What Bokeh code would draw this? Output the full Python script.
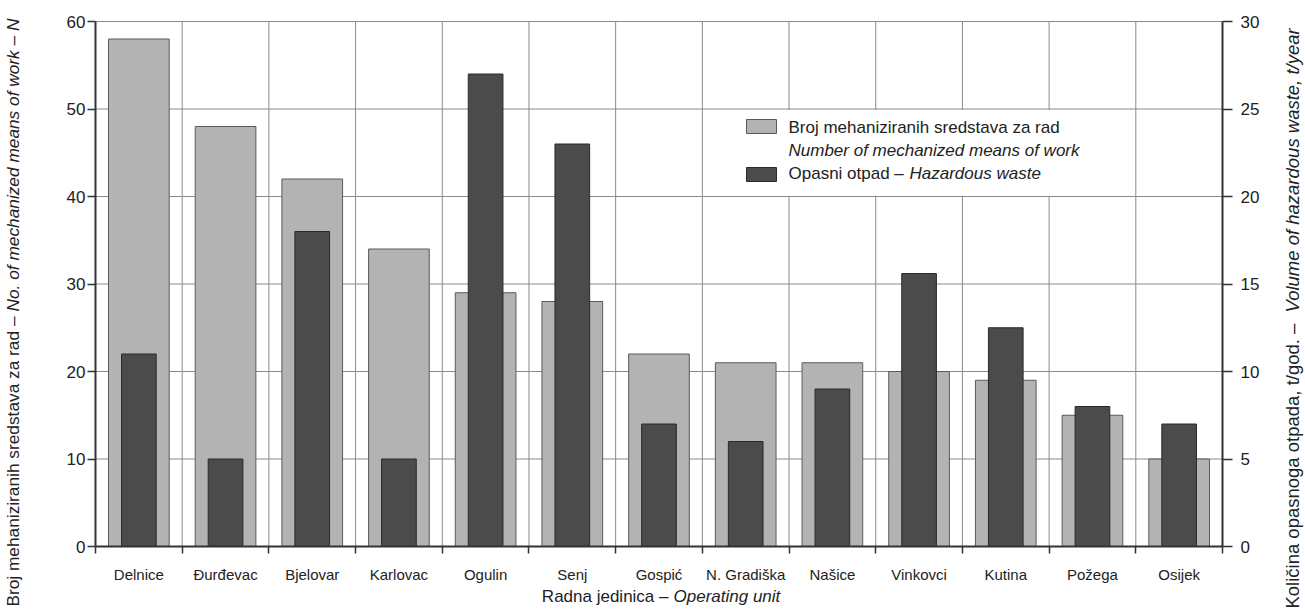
from bokeh.plotting import figure
from bokeh.models import Range1d, LinearAxis, FixedTicker, Label
from bokeh.core.properties import value
from bokeh.embed import file_html
from bokeh.resources import INLINE
import numpy as np

categories = ["Delnice", "Đurđevac", "Bjelovar", "Karlovac", "Ogulin", "Senj", "Gospić",
              "N. Gradiška", "Našice", "Vinkovci", "Kutina", "Požega", "Osijek"]
mechanized = [58, 48, 42, 34, 29, 28, 22, 21, 21, 20, 19, 15, 10]
hazardous = [11, 5, 18, 5, 27, 23, 7, 6, 9, 15.6, 12.5, 8, 7]
left_ticks = [0, 10, 20, 30, 40, 50, 60]
right_ticks = [0, 5, 10, 15, 20, 25, 30]

FONT = "Liberation Sans"
TXT = "#222222"
GRID = "#8a8a8a"
AX = "#333333"
LIGHT, LIGHT_LINE = "#b3b3b3", "#5a5a5a"
DARK, DARK_LINE = "#4b4b4b", "#2a2a2a"

n = len(categories)
xpos = np.arange(n) + 0.5
LMAX, RMAX = left_ticks[-1], right_ticks[-1]

# layout: the frame fills the canvas; axes are placed at fixed locations
W, H = 1304, 614
X0PX, X1PX, Y0PX, Y1PX = 95, 1222, 546, 21
sx = (X1PX - X0PX) / n
sy = (Y0PX - Y1PX) / LMAX
x_rng = Range1d(-X0PX / sx, n + (W - X1PX) / sx)
y_lo, y_hi = -(H - Y0PX) / sy, LMAX + Y1PX / sy

p = figure(width=W, height=H, output_backend="svg", toolbar_location=None,
           x_range=x_rng, y_range=Range1d(y_lo, y_hi),
           x_axis_location=None, y_axis_location=None,
           min_border=0, min_border_left=0, min_border_right=0, min_border_top=0, min_border_bottom=0)
p.outline_line_color = None
p.xgrid.visible = False
p.ygrid.visible = False
p.extra_y_ranges = {"right": Range1d(y_lo * RMAX / LMAX, y_hi * RMAX / LMAX)}

def dx(px):
    return (px - X0PX) / sx

def dy(py):
    return (Y0PX - py) / sy

# grid lines (behind bars)
bounds = list(range(n + 1))
p.segment(x0=bounds[1:-1], y0=0, x1=bounds[1:-1], y1=LMAX, line_color=GRID, line_width=1)
p.segment(x0=0, y0=left_ticks[1:], x1=n, y1=left_ticks[1:], line_color=GRID, line_width=1)

# bars
p.vbar(x=xpos, top=mechanized, width=0.7, fill_color=LIGHT, line_color=LIGHT_LINE, line_width=1)
p.vbar(x=xpos, top=hazardous, width=0.4, fill_color=DARK, line_color=DARK_LINE, line_width=1,
       y_range_name="right")

# x axis: labels centred, ticks at boundaries
xa = LinearAxis(fixed_location=0, bounds=(0, n))
xa.ticker = FixedTicker(ticks=list(xpos), minor_ticks=bounds)
xa.major_label_overrides = {float(x): c for x, c in zip(xpos, categories)}
xa.major_tick_line_color = None
xa.minor_tick_line_color = AX
xa.minor_tick_line_width = 1.5
xa.minor_tick_out = 7
xa.minor_tick_in = 0
xa.axis_line_color = AX
xa.axis_line_width = 2
xa.major_label_standoff = 12
xa.major_label_text_font = FONT
xa.major_label_text_font_size = "15px"
xa.major_label_text_color = TXT
p.add_layout(xa, "below")

ya = LinearAxis(fixed_location=0, bounds=(0, LMAX), ticker=FixedTicker(ticks=left_ticks))
ya.axis_line_color = AX
ya.axis_line_width = 2
ya.major_tick_line_color = AX
ya.major_tick_line_width = 1.5
ya.major_tick_out = 8
ya.major_tick_in = 0
ya.minor_tick_line_color = None
ya.major_label_standoff = 2
ya.major_label_text_font = FONT
ya.major_label_text_font_size = "17px"
ya.major_label_text_color = TXT
p.add_layout(ya, "left")

ra = LinearAxis(y_range_name="right", fixed_location=n, bounds=(0, RMAX),
                ticker=FixedTicker(ticks=right_ticks))
ra.axis_line_color = AX
ra.axis_line_width = 2
ra.major_tick_line_color = AX
ra.major_tick_line_width = 1.5
ra.major_tick_out = 10
ra.major_tick_in = 0
ra.minor_tick_line_color = None
ra.major_label_standoff = 8
ra.major_label_text_font = FONT
ra.major_label_text_font_size = "17px"
ra.major_label_text_color = TXT
p.add_layout(ra, "right")

# legend box
p.quad(left=[dx(712)], right=[dx(1074)], bottom=[40.1], top=[49.9], fill_color="white", line_color=None)
p.quad(left=[dx(746)], right=[dx(776)], bottom=[dy(133)], top=[dy(119)], fill_color=LIGHT, line_color=LIGHT_LINE)
p.quad(left=[dx(746)], right=[dx(776)], bottom=[dy(181)], top=[dy(167)], fill_color=DARK, line_color=DARK_LINE)
common = dict(text_font=value(FONT), text_font_size="17px", text_color=TXT, text_baseline="middle")
p.text(x=[dx(788)], y=[dy(127)], text=["Broj mehaniziranih sredstava za rad"], text_align="left", **common)
p.text(x=[dx(788)], y=[dy(150)], text=["Number of mechanized means of work"], text_align="left",
       text_font_style="italic", **common)
p.text(x=[dx(788)], y=[dy(173)], text=["Opasni otpad –"], text_align="left", **common)
p.text(x=[dx(909)], y=[dy(173)], text=["Hazardous waste"], text_align="left",
       text_font_style="italic", **common)

# axis titles (mixed upright / italic)
lab = dict(text_font=FONT, text_color=TXT, text_baseline="middle")
p.add_layout(Label(x=dx(668), y=dy(596), text="Radna jedinica –", text_align="right",
                   text_font_size="17px", **lab))
p.add_layout(Label(x=dx(673), y=dy(596), text="Operating unit", text_align="left",
                   text_font_style="italic", text_font_size="17px", **lab))
p.add_layout(Label(x=dx(12), y=dy(316), text="Broj mehaniziranih sredstava za rad –", angle=np.pi / 2,
                   text_align="right", text_font_size="17.3px", **lab))
p.add_layout(Label(x=dx(12), y=dy(311), text="No. of mechanized means of work – N", angle=np.pi / 2,
                   text_align="left", text_font_style="italic", text_font_size="17.3px", **lab))
p.add_layout(Label(x=dx(1292), y=dy(318), text="Količina opasnoga  otpada, t/god. –", angle=np.pi / 2,
                   text_align="right", text_font_size="18.5px", **lab))
p.add_layout(Label(x=dx(1292), y=dy(312), text="Volume of hazardous waste, t/year", angle=np.pi / 2,
                   text_align="left", text_font_style="italic", text_font_size="18.5px", **lab))

open("out.html", "w").write(file_html(p, INLINE))
